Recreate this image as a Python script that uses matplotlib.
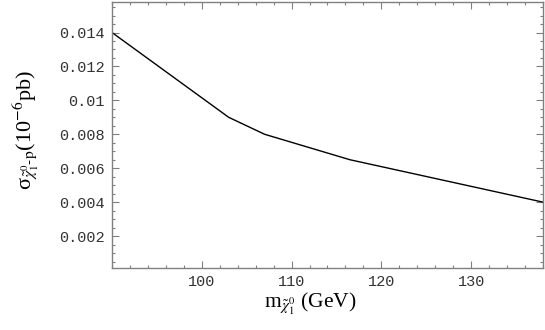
import numpy as np
import matplotlib
matplotlib.use("Agg")
import matplotlib.pyplot as plt
from matplotlib.ticker import MultipleLocator, FixedFormatter, FixedLocator

# neutralino mass (GeV) and neutralino-proton cross section (1e-6 pb)
mass = [90, 103, 107, 116.5, 138]
sigma = [0.014, 0.009, 0.008, 0.0065, 0.004]

x_ticks = [100, 110, 120, 130]
y_ticks = [0.002, 0.004, 0.006, 0.008, 0.01, 0.012, 0.014]
y_tick_labels = ["0.002", "0.004", "0.006", "0.008", "0.01", "0.012", "0.014"]

plt.rcParams["mathtext.fontset"] = "stix"

fig = plt.figure(figsize=(5.45, 3.3), dpi=100)
ax = fig.add_axes([0.2055, 0.187, 0.7908, 0.807])

ax.plot(mass, sigma, color="black", lw=1.0)

ax.set_xlim(90, 138)
ax.set_ylim(0.0001, 0.0158)

frame_col = "#808080"
for sp in ax.spines.values():
    sp.set_color(frame_col)
    sp.set_linewidth(1.0)

ax.xaxis.set_major_locator(FixedLocator(x_ticks))
ax.xaxis.set_minor_locator(MultipleLocator(2))
ax.yaxis.set_major_locator(FixedLocator(y_ticks))
ax.yaxis.set_major_formatter(FixedFormatter(y_tick_labels))
ax.yaxis.set_minor_locator(MultipleLocator(0.0005))

ax.tick_params(which="both", direction="in", top=True, right=True,
               color=frame_col, width=0.8)
ax.tick_params(which="major", length=5)
ax.tick_params(which="minor", length=2.5)
ax.tick_params(axis="both", labelsize=11, pad=5)
for lab in ax.get_xticklabels() + ax.get_yticklabels():
    lab.set_fontfamily("Liberation Mono")
    lab.set_color("#333333")

ax.set_xlabel(r"m$_{\tilde{\chi}^0_1}$ (GeV)", fontsize=15.5,
              fontfamily="Liberation Serif")
ax.xaxis.set_label_coords(0.46, -0.085)
ax.set_ylabel(r"σ$_{\tilde{\chi}^0_1\text{-p}}$(10$^{-6}$pb)", fontsize=16,
              fontfamily="Liberation Serif")
ax.yaxis.set_label_coords(-0.165, 0.52)

fig.savefig("out.png", dpi=100)
